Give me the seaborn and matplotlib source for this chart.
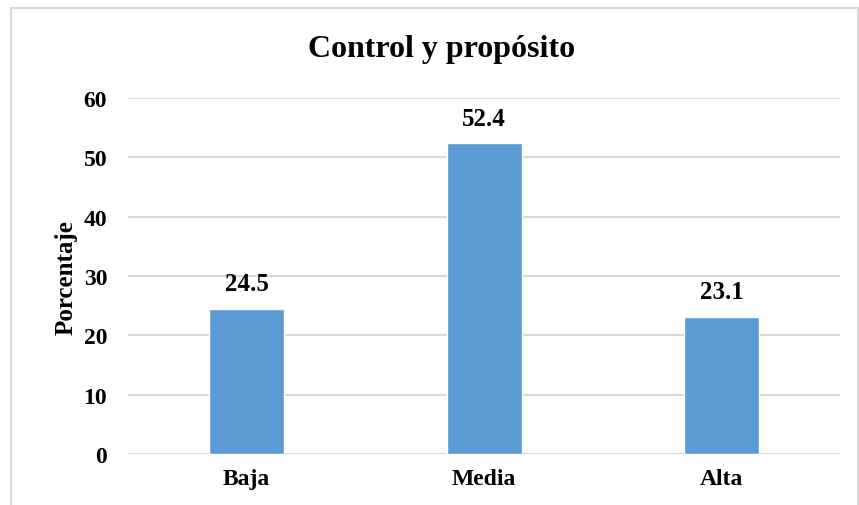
import matplotlib
matplotlib.use("Agg")
import matplotlib.pyplot as plt
import seaborn as sns
import pandas as pd
from matplotlib.patches import Rectangle

categorias = ["Baja", "Media", "Alta"]
porcentajes = [24.5, 52.4, 23.1]
ticks_y = [0, 10, 20, 30, 40, 50, 60]

df = pd.DataFrame({"nivel": categorias, "porcentaje": porcentajes})

sns.set_style("white")
plt.rcParams["font.family"] = ["Liberation Serif", "DejaVu Serif"]
plt.rcParams["font.weight"] = "bold"
plt.rcParams["text.color"] = "black"
plt.rcParams["xtick.color"] = "black"
plt.rcParams["ytick.color"] = "black"
plt.rcParams["axes.labelcolor"] = "black"

fig = plt.figure(figsize=(8.59, 5.06), dpi=100)
ax = fig.add_axes([0.149, 0.1008, 0.829, 0.7032])

sns.barplot(data=df, x="nivel", y="porcentaje", color="#5b9bd5", width=0.316,
            saturation=1, ax=ax, zorder=3)

ax.set_ylim(0, 60)
ax.set_yticks(ticks_y)
ax.set_xlim(-0.5, 2.5)
ax.grid(axis="y", color="#d9d9d9", linewidth=1.5, zorder=0)
ax.set_axisbelow(True)
for s in ax.spines.values():
    s.set_visible(False)
ax.tick_params(axis="y", length=0, labelsize=17, pad=15)
ax.tick_params(axis="x", length=0, labelsize=17, pad=10)
for lab in ax.get_xticklabels() + ax.get_yticklabels():
    lab.set_fontweight("bold")

# etiquetas de valor
for i, v in enumerate(porcentajes):
    ax.text(i, v + 2.3, f"{v}", ha="center", va="bottom", fontsize=18, fontweight="bold")

ax.set_xlabel("")
ax.set_ylabel("Porcentaje", fontsize=18, fontweight="bold", labelpad=4)
fig.text(0.5146, 0.902, "Control y propósito", ha="center", va="center",
         fontsize=23, fontweight="bold")

# marco del gráfico
fig.patches.append(Rectangle((11 / 859, -0.01), 847 / 859, 1 - 9 / 506 + 0.01,
                             transform=fig.transFigure, fill=False,
                             edgecolor="#d9d9d9", linewidth=1.5))

fig.savefig("out.png", dpi=100)
plt.close()
